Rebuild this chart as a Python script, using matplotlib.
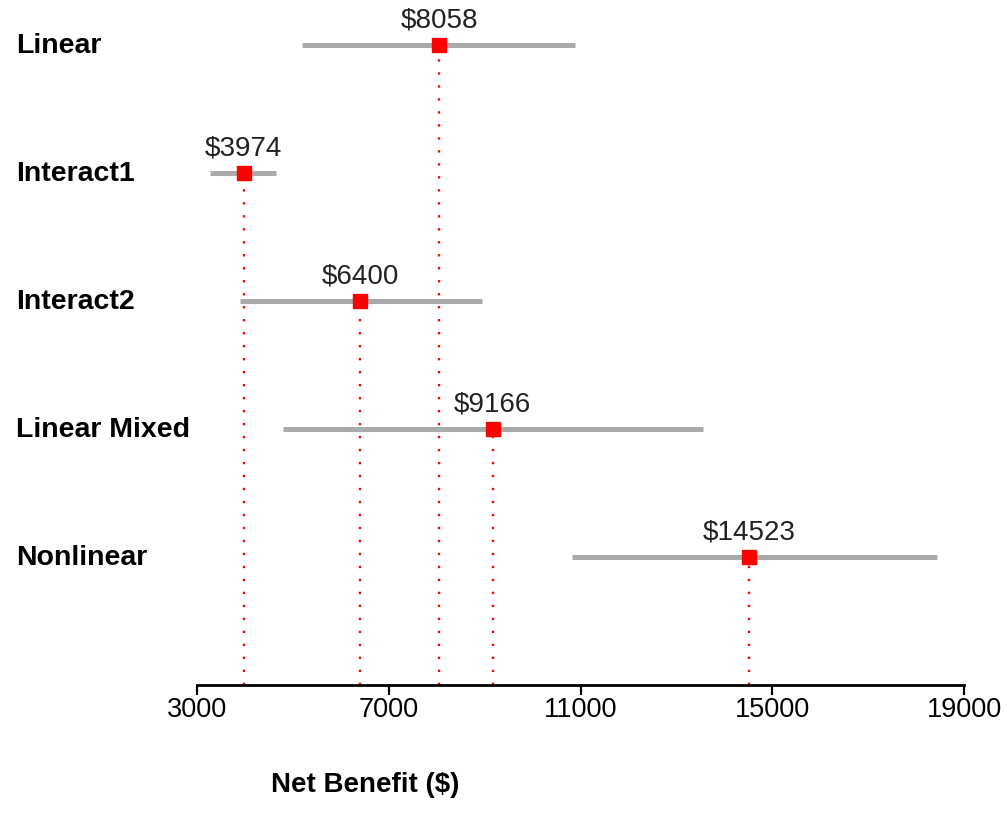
import matplotlib
matplotlib.use("Agg")
import matplotlib.pyplot as plt

plt.rcParams['font.family'] = ['Liberation Sans', 'DejaVu Sans']

models = ['Linear', 'Interact1', 'Interact2', 'Linear Mixed', 'Nonlinear']
means = [8058, 3974, 6400, 9166, 14523]
lows = [5190, 3270, 3900, 4790, 10820]
highs = [10890, 4650, 8950, 13560, 18440]
ticks = [3000, 7000, 11000, 15000, 19000]

fig = plt.figure(figsize=(10.07, 8.29), dpi=100)
ax = fig.add_axes([197/1007, 1 - 686/829, 767/1007, 686/829])

n = len(models)
for i, (m, mu, lo, hi) in enumerate(zip(models, means, lows, highs)):
    y = n - i
    ax.plot([lo, hi], [y, y], color='#aaaaaa', lw=3.6, solid_capstyle='butt', zorder=2)
    ax.plot([mu, mu], [0, y], color='red', lw=1.7, ls=(0, (1, 4.5)), zorder=1)
    ax.plot(mu, y, 's', color='red', ms=10, zorder=3)
    ax.annotate('$%d' % mu, (mu, y), xytext=(0, 18.5), textcoords='offset points',
                ha='center', va='center', fontsize=20, color='#222222')
    fig.text(16/1007, 1 - (46 + 128*i)/829, m, ha='left', va='center',
             fontsize=20.5, fontweight='bold')

ax.set_xlim(3000, 19000)
ax.set_ylim(0, 686/128)
ax.set_xticks(ticks)
ax.set_xticklabels([str(t) for t in ticks], fontsize=19.5)
ax.set_yticks([])
for s in ['top', 'left', 'right']:
    ax.spines[s].set_visible(False)
ax.spines['bottom'].set_linewidth(2)
ax.tick_params(axis='x', direction='out', length=7, width=1.6, pad=1)

fig.text(365/1007, 1 - 785/829, 'Net Benefit ($)', ha='center', va='center',
         fontsize=20, fontweight='bold')

plt.savefig('out.png', dpi=100)
